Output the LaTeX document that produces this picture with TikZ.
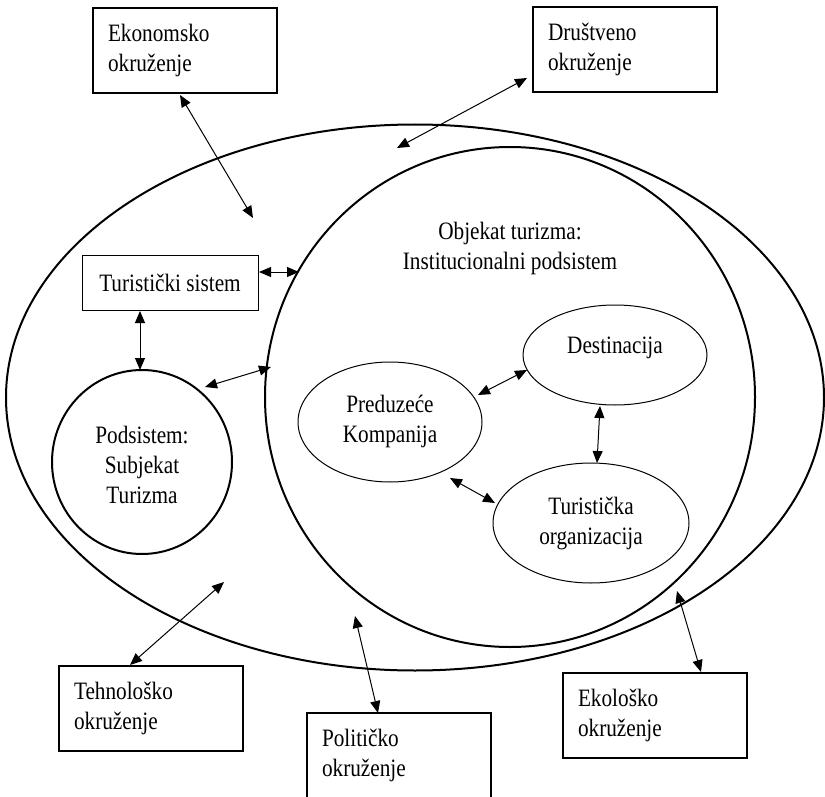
\documentclass[tikz,border=0pt]{standalone}
\usepackage{fontspec}
\setmainfont{Liberation Serif}[FakeStretch=0.85]
\usetikzlibrary{arrows.meta,shapes.geometric}
\begin{document}
\begin{tikzpicture}[x=1pt,y=-1pt,
  txt/.style={font=\fontsize{25}{30}\selectfont, align=center, inner sep=0pt},
  envbox/.style={draw, line width=2pt, fill=white, minimum width=184pt, minimum height=85pt,
     text width=154pt, inner xsep=15pt, align=left, font=\fontsize{25}{30}\selectfont},
  bigell/.style={draw, ellipse, line width=2pt, inner sep=0pt},
  smallell/.style={draw, ellipse, line width=1pt, inner sep=0pt},
  link/.style={<->, line width=1pt, >={Triangle[length=12pt,width=10pt]}}
]
\useasboundingbox (0,0) rectangle (825,797);

% main shapes
\node[bigell, minimum width=818pt, minimum height=546pt] (env) at (415,397.5) {};
\node[bigell, minimum width=490pt, minimum height=500pt] (inner) at (510,397) {};
\node[bigell, minimum width=180pt, minimum height=184pt] (pod) at (142,462) {};
\node[draw, line width=1pt, minimum width=176pt, minimum height=55pt, txt] (ts) at (170,282.5) {Turistički sistem};
\node[smallell, minimum width=184pt, minimum height=100pt] (dest) at (615,355) {};
\node[smallell, minimum width=184pt, minimum height=120pt] (pred) at (390,422) {};
\node[smallell, minimum width=196pt, minimum height=120pt] (torg) at (591,523) {};

% texts
\node[txt] (innerT) at (510,248) {Objekat turizma:\\Institucionalni podsistem};
\node[txt] (podT) at (142,465) {Podsistem:\\Subjekat\\Turizma};
\node[txt] (destT) at (615,348) {Destinacija};
\node[txt] (predT) at (390,421) {Preduzeće\\Kompanija};
\node[txt] (torgT) at (591,523) {Turistička\\organizacija};

% environment boxes
\node[envbox] (eko) at (185,50.5) {Ekonomsko\\okruženje};
\node[envbox] (dru) at (625,49.5) {Društveno\\okruženje};
\node[envbox] (teh) at (151,708.5) {Tehnološko\\okruženje};
\node[envbox] (pol) at (399,755.5) {Političko\\okruženje};
\node[envbox] (ekl) at (655,715.5) {Ekološko\\okruženje};

% connector end points
\coordinate (ekoA) at (180,95);   \coordinate (ekoB) at (253,218);
\coordinate (druA) at (527,78);   \coordinate (druB) at (397,148);
\coordinate (tsA) at (259,272);   \coordinate (tsB) at (299,272);
\coordinate (tsC) at (140,311);   \coordinate (tsD) at (140,370);
\coordinate (podA) at (205,387);  \coordinate (podB) at (271,367);
\coordinate (pdA) at (478,395);   \coordinate (pdB) at (527,370);
\coordinate (dtA) at (600,406);   \coordinate (dtB) at (597,463);
\coordinate (ptA) at (450,478);   \coordinate (ptB) at (495,503);
\coordinate (tehA) at (130,665);  \coordinate (tehB) at (224,582);
\coordinate (polA) at (355,616);  \coordinate (polB) at (378,713);
\coordinate (eklA) at (677,591);  \coordinate (eklB) at (701,672);

\draw[link] (ekoA) -- (ekoB);
\draw[link] (druA) -- (druB);
\draw[link] (tsA) -- (tsB);
\draw[link] (tsC) -- (tsD);
\draw[link] (podA) -- (podB);
\draw[link] (pdA) -- (pdB);
\draw[link] (dtA) -- (dtB);
\draw[link] (ptA) -- (ptB);
\draw[link] (tehA) -- (tehB);
\draw[link] (polA) -- (polB);
\draw[link] (eklA) -- (eklB);
\end{tikzpicture}
\end{document}
